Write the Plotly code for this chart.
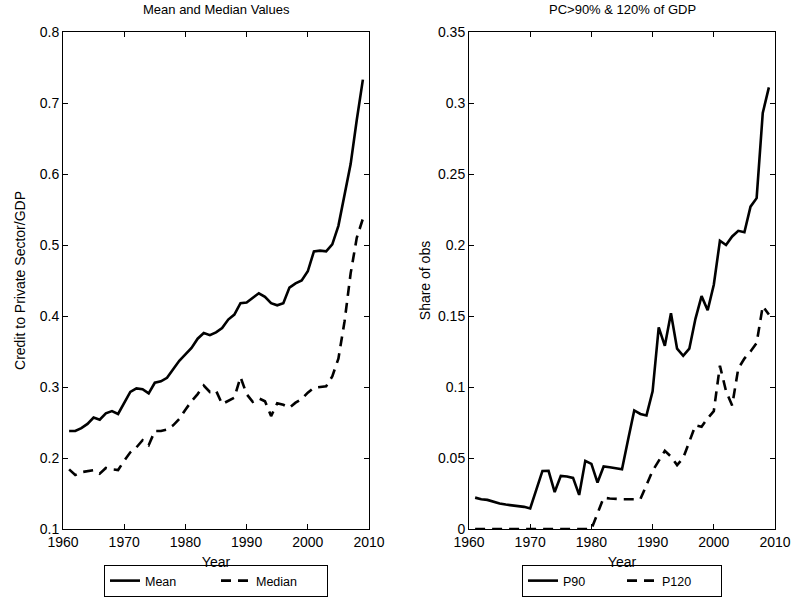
import plotly.graph_objects as go

years = list(range(1961, 2010))

mean_vals = [0.238, 0.238, 0.242, 0.248, 0.257, 0.254, 0.263, 0.266, 0.262, 0.277,
             0.293, 0.298, 0.297, 0.291, 0.306, 0.308, 0.313, 0.325, 0.337, 0.346,
             0.355, 0.368, 0.376, 0.373, 0.377, 0.383, 0.395, 0.402, 0.418, 0.419,
             0.426, 0.432, 0.427, 0.418, 0.415, 0.418, 0.440, 0.446, 0.450, 0.463,
             0.491, 0.492, 0.491, 0.501, 0.527, 0.569, 0.614, 0.676, 0.733]

median_vals = [0.184, 0.176, 0.180, 0.182, 0.183, 0.178, 0.186, 0.184, 0.183, 0.196,
               0.208, 0.215, 0.225, 0.218, 0.238, 0.238, 0.240, 0.246, 0.255, 0.268,
               0.280, 0.290, 0.302, 0.293, 0.295, 0.276, 0.281, 0.285, 0.314, 0.290,
               0.279, 0.284, 0.280, 0.259, 0.277, 0.275, 0.271, 0.278, 0.283, 0.292,
               0.299, 0.300, 0.301, 0.315, 0.340, 0.392, 0.460, 0.510, 0.537]

p90_vals = [0.0221, 0.0210, 0.0205, 0.0190, 0.0180, 0.0172, 0.0166, 0.0163, 0.0156, 0.0145,
            0.0280, 0.0409, 0.0410, 0.0260, 0.0374, 0.0370, 0.0360, 0.0240, 0.0480, 0.0458,
            0.0327, 0.0440, 0.0435, 0.0425, 0.0420, 0.0630, 0.0835, 0.0810, 0.0800, 0.0970,
            0.1420, 0.1290, 0.1520, 0.1270, 0.1220, 0.1270, 0.1480, 0.1640, 0.1540, 0.1720,
            0.2030, 0.2000, 0.2060, 0.2100, 0.2090, 0.2270, 0.2330, 0.2930, 0.3110]

p120_vals = [0, 0, 0, 0, 0, 0, 0, 0, 0, 0,
             0, 0, 0, 0, 0, 0, 0, 0, 0, 0,
             0.011, 0.022, 0.0215, 0.021, 0.021, 0.021, 0.021, 0.021, 0.031, 0.041,
             0.048, 0.055, 0.051, 0.045, 0.050, 0.062, 0.073, 0.072, 0.078, 0.083,
             0.115, 0.097, 0.087, 0.113, 0.120, 0.125, 0.131, 0.157, 0.151]

x_ticks = [1960, 1970, 1980, 1990, 2000, 2010]
x_tick_text = ["1960", "1970", "1980", "1990", "2000", "2010"]
left_y_ticks = [0.1, 0.2, 0.3, 0.4, 0.5, 0.6, 0.7, 0.8]
left_y_text = ["0.1", "0.2", "0.3", "0.4", "0.5", "0.6", "0.7", "0.8"]
right_y_ticks = [0, 0.05, 0.1, 0.15, 0.2, 0.25, 0.3, 0.35]
right_y_text = ["0", "0.05", "0.1", "0.15", "0.2", "0.25", "0.3", "0.35"]

FONT = "Liberation Sans, Arial, Helvetica, sans-serif"
DASH = "10px,7px"
LW = 2.6
FS = 14

W, H = 794, 598


def px(x):
    return x / W


def py(y):
    return 1 - y / H


fig = go.Figure()
fig.add_trace(go.Scatter(x=years, y=mean_vals, name="Mean", mode="lines",
                         line=dict(color="black", width=LW),
                         xaxis="x", yaxis="y", legend="legend"))
fig.add_trace(go.Scatter(x=years, y=median_vals, name="Median", mode="lines",
                         line=dict(color="black", width=LW, dash=DASH),
                         xaxis="x", yaxis="y", legend="legend"))
fig.add_trace(go.Scatter(x=years, y=p90_vals, name="P90", mode="lines",
                         line=dict(color="black", width=LW),
                         xaxis="x2", yaxis="y2", legend="legend2"))
fig.add_trace(go.Scatter(x=years, y=p120_vals, name="P120", mode="lines",
                         line=dict(color="black", width=LW, dash=DASH),
                         xaxis="x2", yaxis="y2", legend="legend2"))

ydom = [py(529), py(32)]

axis_common = dict(showgrid=False, zeroline=False, showline=True, linecolor="black",
                   linewidth=1, mirror="allticks", ticks="inside", ticklen=5,
                   tickcolor="black", tickwidth=1, automargin=False,
                   tickfont=dict(family=FONT, size=FS, color="black"))

legend_common = dict(orientation="h", yanchor="bottom", y=py(597),
                     bordercolor="black", borderwidth=1, bgcolor="white",
                     font=dict(family=FONT, size=12.5, color="black"),
                     tracegroupgap=0, xanchor="center", valign="middle")

fig.update_layout(
    width=W, height=H,
    margin=dict(l=0, r=0, t=0, b=0, autoexpand=False),
    paper_bgcolor="white", plot_bgcolor="white",
    font=dict(family=FONT, size=FS, color="black"),
    showlegend=True,
    xaxis=dict(domain=[px(63), px(369)], range=[1960, 2010], tickvals=x_ticks,
               ticktext=x_tick_text, anchor="y",
               title=dict(text="Year", font=dict(family=FONT, size=FS), standoff=8),
               **axis_common),
    yaxis=dict(domain=ydom, range=[0.1, 0.8], tickvals=left_y_ticks, ticktext=left_y_text,
               anchor="x",
               title=dict(text="Credit to Private Sector/GDP", font=dict(family=FONT, size=FS), standoff=10),
               **axis_common),
    xaxis2=dict(domain=[px(469), px(775)], range=[1960, 2010], tickvals=x_ticks,
                ticktext=x_tick_text, anchor="y2",
                title=dict(text="Year", font=dict(family=FONT, size=FS), standoff=8),
                **axis_common),
    yaxis2=dict(domain=ydom, range=[0, 0.35], tickvals=right_y_ticks, ticktext=right_y_text,
                anchor="x2",
                title=dict(text="Share of obs", font=dict(family=FONT, size=FS), standoff=4),
                **axis_common),
    legend=dict(x=px(216), entrywidth=66, **legend_common),
    legend2=dict(x=px(622), entrywidth=54, **legend_common),
    annotations=[
        dict(text="Mean and Median Values", x=px(216), y=py(10), xref="paper", yref="paper",
             xanchor="center", yanchor="middle", showarrow=False,
             font=dict(family=FONT, size=13, color="black")),
        dict(text="PC&gt;90% &amp; 120% of GDP", x=px(622), y=py(10), xref="paper", yref="paper",
             xanchor="center", yanchor="middle", showarrow=False,
             font=dict(family=FONT, size=13, color="black")),
    ],
)

fig.write_html(
    "out.html",
    config={"displayModeBar": False},
    post_script="document.body.style.margin='0';document.body.style.padding='0';"
                "document.documentElement.style.overflow='hidden';",
)
